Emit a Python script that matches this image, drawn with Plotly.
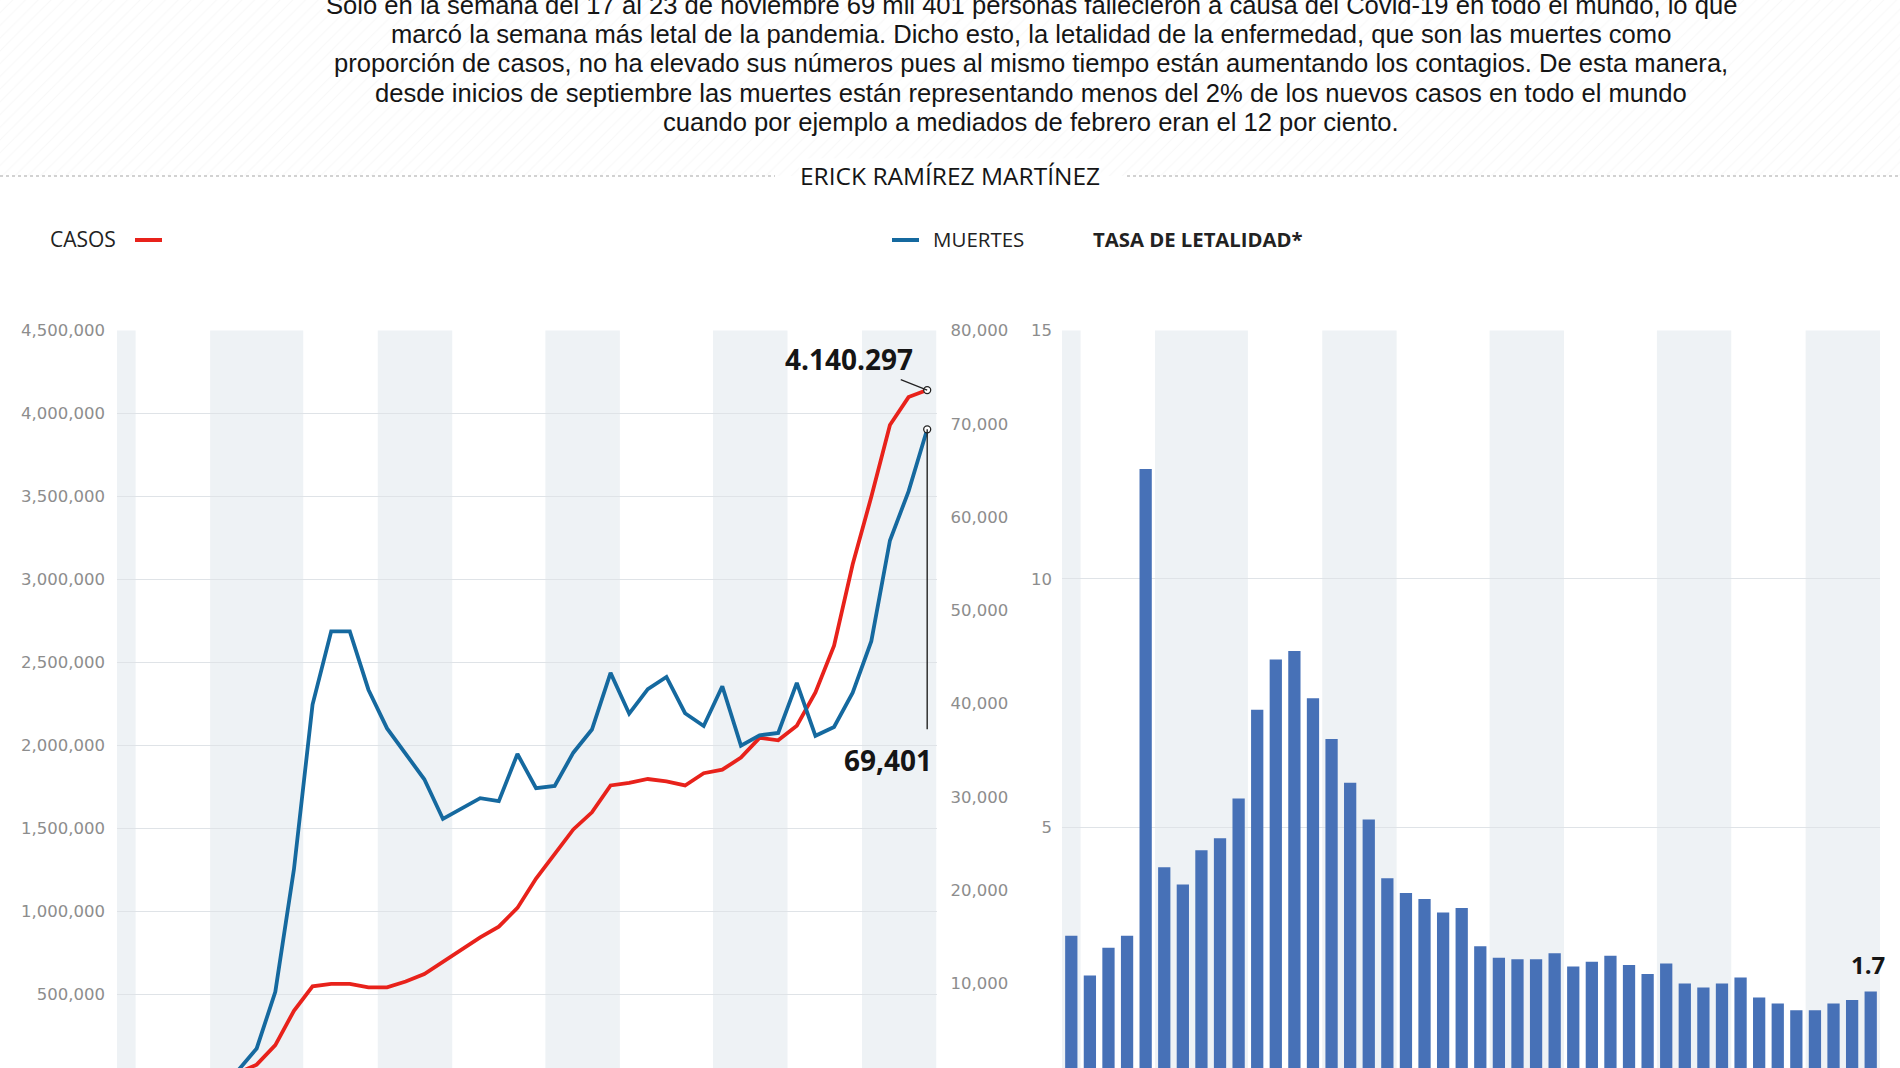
import plotly.graph_objects as go

W, H = 1900, 1068

# ---------------- data ----------------
weeks = ["27 ene", "3 feb", "10 feb", "17 feb", "24 feb", "2 mar", "9 mar", "16 mar", "23 mar", "30 mar",
         "6 abr", "13 abr", "20 abr", "27 abr", "4 may", "11 may", "18 may", "25 may", "1 jun", "8 jun",
         "15 jun", "22 jun", "29 jun", "6 jul", "13 jul", "20 jul", "27 jul", "3 ago", "10 ago", "17 ago",
         "24 ago", "31 ago", "7 sep", "14 sep", "21 sep", "28 sep", "5 oct", "12 oct", "19 oct", "26 oct",
         "2 nov", "9 nov", "16 nov", "23 nov"]

casos = [2800, 14500, 19500, 24000, 5700, 9800, 25000, 74000, 192000, 399000,
         546000, 561000, 561000, 540000, 540000, 575000, 620000, 694000, 768000, 841000,
         906000, 1019000, 1196000, 1344000, 1492000, 1595000, 1757000, 1772000, 1796000, 1781000,
         1757000, 1831000, 1852000, 1925000, 2044000, 2029000, 2117000, 2318000, 2599000, 3090000,
         3497000, 3930000, 4098000, 4140297]

muertes = [60, 250, 480, 620, 700, 480, 700, 3060, 9120, 22250,
           39900, 47750, 47750, 41500, 37350, 34600, 31900, 27650, 28780, 29880,
           29550, 34610, 30940, 31190, 34750, 37230, 43300, 38930, 41560, 42870,
           38980, 37610, 41870, 35500, 36610, 36870, 42230, 36560, 37500, 41180,
           46700, 57490, 62750, 69401]

tasa = [2.82, 2.02, 2.58, 2.82, 12.21, 4.20, 3.85, 4.54, 4.78, 5.58,
        7.37, 8.38, 8.55, 7.60, 6.78, 5.90, 5.16, 3.98, 3.68, 3.56,
        3.29, 3.38, 2.61, 2.38, 2.35, 2.35, 2.47, 2.20, 2.30, 2.42,
        2.23, 2.05, 2.26, 1.86, 1.78, 1.86, 1.98, 1.58, 1.46, 1.32,
        1.32, 1.46, 1.53, 1.70]

casos_ticks = [500000, 1000000, 1500000, 2000000, 2500000, 3000000, 3500000, 4000000, 4500000]
muertes_ticks = [10000, 20000, 30000, 40000, 50000, 60000, 70000, 80000]
tasa_ticks = [5, 10, 15]

parrafo = [
    "Solo en la semana del 17 al 23 de noviembre 69 mil 401 personas fallecieron a causa del Covid-19 en todo el mundo, lo que",
    "marcó la semana más letal de la pandemia. Dicho esto, la letalidad de la enfermedad, que son las muertes como",
    "proporción de casos, no ha elevado sus números pues al mismo tiempo están aumentando los contagios. De esta manera,",
    "desde inicios de septiembre las muertes están representando menos del 2% de los nuevos casos en todo el mundo",
    "cuando por ejemplo a mediados de febrero eran el 12 por ciento.",
]
autor = "ERICK RAMÍREZ MARTÍNEZ"

# ---------------- style ----------------
RED = "#e8221b"
BLUE = "#15699f"
BAR = "#4771b7"
STRIPE = "#eef2f5"
GRID = "#dfe3e7"
TICK_FONT = dict(family="DejaVu Sans", size=16.5, color="#8d8d8d")
TXT = "Open Sans"
PARA = "Liberation Sans, Arial, sans-serif"

def px_x(v):
    return v / W

def px_y(v):
    return 1 - v / H

top_px = 330.4
dom_top = px_y(top_px)
left_dom = [px_x(117), px_x(936.5)]
right_dom = [px_x(1062), px_x(1880)]

fig = go.Figure()

# faint hatched header band (decoration)
fig.add_trace(go.Scatter(x=[0, 1, 1, 0, 0], y=[0, 0, 1, 1, 0], mode="lines", fill="toself",
                         line=dict(width=0), fillcolor="rgba(0,0,0,0)",
                         fillpattern=dict(shape="/", fgcolor="#f1f1f1", bgcolor="#ffffff", size=9, solidity=0.12),
                         xaxis="x3", yaxis="y4", hoverinfo="skip", showlegend=False))

fig.add_trace(go.Scatter(x=weeks, y=casos, mode="lines", line=dict(color=RED, width=3.8),
                         xaxis="x", yaxis="y", name="Casos", showlegend=False))
fig.add_trace(go.Scatter(x=weeks, y=muertes, mode="lines", line=dict(color=BLUE, width=3.8),
                         xaxis="x", yaxis="y2", name="Muertes", showlegend=False))
fig.add_trace(go.Scatter(x=[weeks[-1]], y=[casos[-1]], mode="markers",
                         marker=dict(size=7, color="white", line=dict(color="#222", width=1.3)),
                         xaxis="x", yaxis="y", showlegend=False))
fig.add_trace(go.Scatter(x=[weeks[-1]], y=[muertes[-1]], mode="markers",
                         marker=dict(size=7, color="white", line=dict(color="#222", width=1.3)),
                         xaxis="x", yaxis="y2", showlegend=False))
fig.add_trace(go.Bar(x=weeks, y=tasa, marker=dict(color=BAR, line=dict(width=0)),
                     width=0.66, xaxis="x2", yaxis="y3", showlegend=False))

cas_rng = [54000, 4500000]
mue_rng = [964, 80000]
tas_rng = [0.16, 15]

fig.update_layout(
    width=W, height=H,
    margin=dict(l=0, r=0, t=0, b=0, autoexpand=False),
    paper_bgcolor="white", plot_bgcolor="rgba(0,0,0,0)",
    bargap=0.34,
    xaxis=dict(domain=left_dom, type="category", range=[-0.5, len(weeks) - 0.5], automargin=False,
               showgrid=False, showticklabels=False, zeroline=False, showline=False, ticks=""),
    yaxis=dict(domain=[0, dom_top], anchor="x", range=cas_rng, tickvals=casos_ticks, automargin=False,
               tickformat=",d", showgrid=True, gridcolor=GRID, gridwidth=1.3, zeroline=False,
               tickfont=TICK_FONT, ticklabelstandoff=11, showline=False),
    yaxis2=dict(overlaying="y", side="right", anchor="x", range=mue_rng, tickvals=muertes_ticks,
                tickformat=",d", showgrid=False, zeroline=False, tickfont=TICK_FONT, automargin=False,
                ticklabelstandoff=13),
    xaxis2=dict(domain=right_dom, anchor="y3", type="category", range=[-0.5, len(weeks) - 0.5],
                showgrid=False, showticklabels=False, zeroline=False, ticks="", automargin=False),
    yaxis3=dict(domain=[0, dom_top], anchor="x2", range=tas_rng, tickvals=tasa_ticks, automargin=False,
                showgrid=True, gridcolor=GRID, gridwidth=1.3, zeroline=False,
                tickfont=TICK_FONT, ticklabelstandoff=9),
    xaxis3=dict(domain=[0, 1], anchor="y4", range=[0, 1], visible=False, automargin=False),
    yaxis4=dict(domain=[px_y(176), 1], anchor="x3", range=[0, 1], visible=False, automargin=False),
)

months = [w.split(" ")[1] for w in weeks]
groups = []
start = 0
for i in range(1, len(months) + 1):
    if i == len(months) or months[i] != months[start]:
        groups.append((start, i - 1))
        start = i
shapes = []
for gi, (a, b) in enumerate(groups):
    if gi % 2 == 0:
        for xr, yr in (("x", "y domain"), ("x2", "y3 domain")):
            shapes.append(dict(type="rect", xref=xr, yref=yr, x0=a - 0.5, x1=b + 0.5, y0=0, y1=1,
                               fillcolor=STRIPE, line=dict(width=0), layer="below"))

shapes.append(dict(type="line", xref="paper", yref="paper", x0=0, x1=px_x(775), y0=px_y(176), y1=px_y(176),
                   line=dict(color="#c4c4c4", width=1.5, dash="dot")))
shapes.append(dict(type="line", xref="paper", yref="paper", x0=px_x(1127), x1=1, y0=px_y(176), y1=px_y(176),
                   line=dict(color="#c4c4c4", width=1.5, dash="dot")))
shapes.append(dict(type="line", xref="paper", yref="paper", x0=px_x(135), x1=px_x(162), y0=px_y(240), y1=px_y(240),
                   line=dict(color=RED, width=4)))
shapes.append(dict(type="line", xref="paper", yref="paper", x0=px_x(892), x1=px_x(919), y0=px_y(240), y1=px_y(240),
                   line=dict(color=BLUE, width=4)))
shapes.append(dict(type="line", xref="x", yref="y2", ysizemode="pixel", yanchor=muertes[-1],
                   x0=len(weeks) - 1, x1=len(weeks) - 1, y0=0, y1=-300,
                   line=dict(color="#222", width=1.4)))
fig.update_layout(shapes=shapes)

ann = []
line_y = [5, 34.2, 63.4, 92.6, 121.8]
for t, yy in zip(parrafo, line_y):
    ann.append(dict(text=t, xref="paper", yref="paper", x=px_x(1031), y=px_y(yy), xanchor="center",
                    yanchor="middle", showarrow=False, font=dict(family=PARA, size=25.6, color="#151515")))
ann.append(dict(text=autor, xref="paper", yref="paper", x=px_x(950), y=px_y(176), xanchor="center",
                yanchor="middle", showarrow=False, bgcolor="white", borderpad=0,
                font=dict(family=TXT, size=24.5, color="#151515")))
ann.append(dict(text="CASOS", xref="paper", yref="paper", x=px_x(48), y=px_y(239), xanchor="left",
                yanchor="middle", showarrow=False, font=dict(family=TXT, size=21, color="#222")))
ann.append(dict(text="MUERTES", xref="paper", yref="paper", x=px_x(931), y=px_y(239), xanchor="left",
                yanchor="middle", showarrow=False, font=dict(family=TXT, size=20.5, color="#222")))
ann.append(dict(text="<b>TASA DE LETALIDAD*</b>", xref="paper", yref="paper", x=px_x(1091), y=px_y(239),
                xanchor="left", yanchor="middle", showarrow=False, font=dict(family=TXT, size=20.3, color="#222")))

cas_txt = f"{casos[-1]:,}".replace(",", ".")
ann.append(dict(text=f"<b>{cas_txt}</b>", xref="x", yref="y", x=weeks[-1], y=casos[-1],
                showarrow=True, ax=-78, ay=-31, arrowhead=0, arrowwidth=1.2, arrowcolor="#222",
                font=dict(family=TXT, size=28, color="#151515")))
ann.append(dict(text=f"<b>{muertes[-1]:,}</b>", xref="x", yref="y2", x=weeks[-1], y=muertes[-1],
                xanchor="right", yanchor="top", xshift=7, yshift=-310, showarrow=False,
                font=dict(family=TXT, size=28, color="#151515")))
ann.append(dict(text=f"<b>{tasa[-1]:.1f}</b>", xref="x2", yref="y3", x=weeks[-1], y=tasa[-1],
                xanchor="center", yanchor="bottom", xshift=-3, yshift=8, showarrow=False,
                font=dict(family=TXT, size=24, color="#151515")))
fig.update_layout(annotations=ann)

fig.write_html("out.html")
